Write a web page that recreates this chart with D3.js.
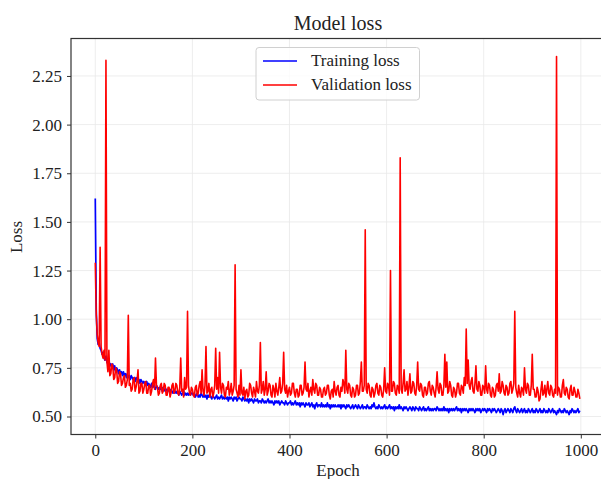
<!DOCTYPE html>
<html lang="en">
<meta charset="utf-8">
<head>
    <script src='https://d3js.org/d3.v7.min.js'></script>
    <style>
        body { margin: 0; background: #fff; }
        text { font-family: 'Liberation Serif', 'Times New Roman', serif; fill: #222; }
    </style>
</head>
<body>
</body>

<script>
var width = 601, height = 479;

// one value every 2 epochs (0, 2, ..., 998)
var epochs = d3.range(0, 1000, 2);

var trainLoss = [
    1.62,1.05,0.90,0.87,0.88,0.85,0.84,0.82,0.83,0.80,
    0.79,0.81,0.78,0.77,0.79,0.76,0.77,0.75,0.77,0.74,
    0.76,0.73,0.75,0.74,0.72,0.74,0.72,0.73,0.71,0.73,
    0.71,0.72,0.70,0.72,0.70,0.71,0.69,0.71,0.70,0.69,
    0.70,0.68,0.70,0.69,0.68,0.69,0.67,0.69,0.68,0.67,
    0.68,0.67,0.66,0.68,0.66,0.67,0.66,0.65,0.67,0.65,
    0.66,0.65,0.64,0.66,0.65,0.64,0.65,0.64,0.65,0.63,
    0.65,0.64,0.63,0.64,0.63,0.64,0.63,0.62,0.64,0.63,
    0.62,0.63,0.62,0.63,0.62,0.63,0.61,0.63,0.62,0.61,
    0.62,0.63,0.61,0.62,0.61,0.62,0.61,0.62,0.61,0.62,
    0.62,0.61,0.62,0.60,0.61,0.62,0.60,0.61,0.60,0.62,
    0.61,0.60,0.61,0.60,0.61,0.59,0.61,0.60,0.61,0.60,
    0.59,0.61,0.60,0.59,0.60,0.61,0.59,0.60,0.59,0.60,
    0.61,0.59,0.60,0.59,0.60,0.59,0.60,0.58,0.60,0.59,
    0.60,0.59,0.58,0.60,0.59,0.60,0.58,0.59,0.60,0.59,
    0.59,0.58,0.60,0.59,0.58,0.59,0.58,0.59,0.57,0.59,
    0.58,0.59,0.58,0.57,0.59,0.58,0.58,0.59,0.57,0.58,
    0.58,0.57,0.59,0.58,0.57,0.58,0.57,0.58,0.59,0.57,
    0.58,0.57,0.58,0.57,0.56,0.58,0.57,0.58,0.57,0.58,
    0.56,0.57,0.58,0.57,0.57,0.56,0.58,0.57,0.56,0.57,
    0.57,0.58,0.56,0.57,0.56,0.57,0.58,0.56,0.57,0.56,
    0.57,0.55,0.57,0.56,0.57,0.56,0.55,0.57,0.56,0.56,
    0.57,0.55,0.56,0.57,0.55,0.56,0.54,0.56,0.57,0.55,
    0.56,0.56,0.55,0.57,0.55,0.56,0.55,0.56,0.55,0.57,
    0.55,0.56,0.54,0.56,0.55,0.56,0.55,0.56,0.55,0.55,
    0.56,0.55,0.56,0.54,0.56,0.55,0.56,0.55,0.54,0.56,
    0.55,0.56,0.55,0.54,0.55,0.56,0.54,0.55,0.56,0.55,
    0.54,0.56,0.55,0.54,0.55,0.56,0.54,0.55,0.55,0.54,
    0.56,0.55,0.54,0.55,0.54,0.56,0.55,0.57,0.55,0.54,
    0.55,0.54,0.56,0.55,0.54,0.55,0.54,0.55,0.56,0.54,
    0.55,0.54,0.55,0.56,0.54,0.55,0.54,0.55,0.53,0.55,
    0.54,0.55,0.54,0.56,0.54,0.55,0.54,0.53,0.55,0.54,
    0.55,0.54,0.53,0.54,0.55,0.54,0.53,0.55,0.54,0.53,
    0.55,0.54,0.54,0.53,0.55,0.54,0.53,0.54,0.55,0.53,
    0.54,0.53,0.54,0.55,0.53,0.54,0.53,0.54,0.53,0.54,
    0.54,0.53,0.55,0.54,0.53,0.54,0.53,0.54,0.53,0.55,
    0.53,0.54,0.53,0.54,0.52,0.54,0.53,0.54,0.53,0.54,
    0.53,0.54,0.55,0.53,0.54,0.53,0.54,0.52,0.54,0.53,
    0.54,0.53,0.54,0.53,0.52,0.54,0.53,0.54,0.53,0.54,
    0.53,0.52,0.54,0.53,0.54,0.53,0.54,0.52,0.53,0.54,
    0.53,0.54,0.53,0.52,0.54,0.53,0.54,0.53,0.52,0.54,
    0.53,0.54,0.53,0.52,0.53,0.54,0.53,0.52,0.54,0.53,
    0.51,0.53,0.54,0.52,0.53,0.54,0.53,0.52,0.54,0.53,
    0.52,0.54,0.55,0.53,0.52,0.54,0.53,0.52,0.53,0.54,
    0.52,0.53,0.54,0.52,0.53,0.52,0.54,0.53,0.52,0.53,
    0.54,0.52,0.53,0.52,0.54,0.53,0.52,0.53,0.54,0.52,
    0.53,0.52,0.54,0.53,0.52,0.53,0.52,0.54,0.53,0.52,
    0.53,0.54,0.52,0.53,0.52,0.51,0.53,0.52,0.54,0.53,
    0.52,0.53,0.52,0.54,0.53,0.52,0.53,0.52,0.51,0.53,
    0.52,0.54,0.53,0.52,0.53,0.52,0.53,0.54,0.52,0.53
];

var valLoss = [
    1.29,1.02,0.92,0.88,0.86,1.37,0.86,0.82,0.80,0.84,
    0.79,2.33,0.78,0.73,0.84,0.71,0.72,0.77,0.76,0.69,
    0.70,0.75,0.74,0.67,0.68,0.73,0.72,0.66,0.67,0.70,
    0.71,0.65,0.66,0.69,1.02,0.66,0.67,0.63,0.64,0.69,
    0.70,0.63,0.65,0.68,0.74,0.62,0.63,0.67,0.67,0.62,
    0.64,0.67,0.68,0.62,0.62,0.66,0.66,0.61,0.63,0.67,
    0.69,0.64,0.80,0.66,0.65,0.61,0.62,0.66,0.67,0.62,
    0.63,0.67,0.66,0.61,0.61,0.65,0.65,0.60,0.62,0.66,
    0.67,0.62,0.63,0.67,0.66,0.62,0.61,0.65,0.80,0.63,
    0.64,0.60,0.70,0.64,0.65,1.04,0.66,0.62,0.61,0.65,
    0.64,0.61,0.60,0.65,0.66,0.61,0.62,0.66,0.68,0.62,
    0.74,0.63,0.61,0.66,0.86,0.62,0.63,0.67,0.60,0.64,
    0.65,0.60,0.62,0.66,0.85,0.64,0.70,0.62,0.83,0.65,
    0.62,0.67,0.66,0.61,0.60,0.65,0.64,0.68,0.61,0.63,
    0.67,0.61,0.63,0.66,1.28,0.64,0.62,0.60,0.66,0.61,
    0.74,0.62,0.61,0.65,0.59,0.63,0.64,0.60,0.61,0.67,
    0.66,0.62,0.60,0.65,0.63,0.60,0.68,0.63,0.62,0.66,
    0.88,0.62,0.64,0.68,0.61,0.64,0.73,0.61,0.63,0.67,
    0.66,0.61,0.60,0.66,0.64,0.60,0.67,0.63,0.61,0.65,
    0.70,0.62,0.63,0.67,0.83,0.64,0.62,0.66,0.60,0.63,
    0.65,0.61,0.62,0.67,0.67,0.62,0.60,0.64,0.64,0.60,
    0.61,0.66,0.66,0.61,0.62,0.65,0.78,0.64,0.63,0.67,
    0.60,0.63,0.65,0.61,0.69,0.64,0.62,0.67,0.66,0.61,
    0.61,0.65,0.64,0.60,0.60,0.64,0.65,0.61,0.62,0.66,
    0.66,0.61,0.59,0.63,0.64,0.60,0.68,0.63,0.61,0.65,
    0.66,0.61,0.60,0.65,0.63,0.69,0.67,0.62,0.84,0.64,
    0.62,0.67,0.66,0.61,0.60,0.65,0.64,0.60,0.61,0.66,
    0.66,0.61,0.62,0.68,0.78,0.63,0.63,0.66,1.46,0.64,
    0.62,0.67,0.66,0.61,0.60,0.65,0.64,0.60,0.62,0.66,
    0.67,0.62,0.61,0.66,0.65,0.61,0.60,0.64,0.75,0.63,
    0.62,0.67,0.66,0.61,1.25,0.63,0.63,0.68,0.67,0.62,
    0.61,0.66,0.65,0.62,1.83,0.64,0.62,0.67,0.74,0.63,
    0.64,0.68,0.61,0.65,0.72,0.62,0.63,0.68,0.67,0.62,
    0.61,0.66,0.78,0.64,0.63,0.67,0.66,0.61,0.60,0.65,
    0.65,0.61,0.62,0.67,0.68,0.63,0.61,0.66,0.65,0.62,
    0.60,0.65,0.73,0.64,0.62,0.67,0.66,0.61,0.61,0.66,
    0.82,0.65,0.78,0.62,0.63,0.68,0.66,0.61,0.60,0.65,
    0.64,0.60,0.62,0.67,0.67,0.62,0.61,0.66,0.65,0.62,
    0.70,0.66,0.95,0.67,0.79,0.66,0.64,0.68,0.70,0.63,
    0.62,0.67,0.76,0.64,0.63,0.68,0.66,0.61,0.61,0.66,
    0.65,0.62,0.76,0.64,0.62,0.67,0.66,0.61,0.60,0.65,
    0.64,0.60,0.61,0.66,0.67,0.63,0.72,0.62,0.63,0.68,
    0.66,0.62,0.61,0.66,0.65,0.61,0.62,0.67,0.68,0.62,
    0.64,0.67,1.04,0.65,0.62,0.60,0.66,0.62,0.60,0.65,
    0.64,0.61,0.75,0.64,0.62,0.67,0.66,0.61,0.61,0.66,
    0.82,0.64,0.64,0.60,0.60,0.65,0.63,0.58,0.59,0.64,
    0.68,0.61,0.62,0.66,0.60,0.64,0.68,0.62,0.61,0.66,
    0.65,0.61,0.60,0.64,0.62,2.35,0.61,0.65,0.64,0.60,
    0.60,0.66,0.69,0.62,0.61,0.65,0.64,0.60,0.59,0.64,
    0.66,0.61,0.61,0.65,0.63,0.60,0.60,0.64,0.62,0.59
];

var xTicks = [0, 200, 400, 600, 800, 1000];
var yTicks = [0.50, 0.75, 1.00, 1.25, 1.50, 1.75, 2.00, 2.25];

var pLeft = 71, pRight = 604.6, pTop = 38.5, pBottom = 434.5;

var svg = d3.select('body').append('svg').attr('width', width).attr('height', height);

var x = d3.scaleLinear().domain([-50, 1049]).range([pLeft, pRight]);
var y = d3.scaleLinear().domain([0.4075, 2.4425]).range([pBottom, pTop]);

// grid
svg.append('g').selectAll('line').data(xTicks).join('line')
    .attr('x1', d => x(d)).attr('x2', d => x(d))
    .attr('y1', pTop).attr('y2', pBottom)
    .attr('stroke', '#e8e8e8').attr('stroke-width', 0.8);
svg.append('g').selectAll('line').data(yTicks).join('line')
    .attr('x1', pLeft).attr('x2', pRight)
    .attr('y1', d => y(d)).attr('y2', d => y(d))
    .attr('stroke', '#e8e8e8').attr('stroke-width', 0.8);

svg.append('clipPath').attr('id', 'plot')
    .append('rect').attr('x', pLeft).attr('y', pTop)
    .attr('width', pRight - pLeft).attr('height', pBottom - pTop);

var line = d3.line()
    .x((d, i) => x(epochs[i]))
    .y(d => y(d));

svg.append('path').datum(trainLoss)
    .attr('clip-path', 'url(#plot)')
    .attr('fill', 'none').attr('stroke', '#0000ff').attr('stroke-width', 1.7)
    .attr('stroke-linejoin', 'round')
    .attr('d', line);
svg.append('path').datum(valLoss)
    .attr('clip-path', 'url(#plot)')
    .attr('fill', 'none').attr('stroke', '#ff0000').attr('stroke-width', 1.6)
    .attr('stroke-linejoin', 'round')
    .attr('d', line);

// axes
var xAxis = d3.axisBottom(x).tickValues(xTicks).tickSize(4).tickPadding(5).tickFormat(d3.format('d'));
var yAxis = d3.axisLeft(y).tickValues(yTicks).tickSize(4).tickPadding(5).tickFormat(d3.format('.2f'));

var gx = svg.append('g').attr('transform', 'translate(0,' + pBottom + ')').call(xAxis);
var gy = svg.append('g').attr('transform', 'translate(' + pLeft + ',0)').call(yAxis);
[gx, gy].forEach(function(g) {
    g.select('.domain').remove();
    g.selectAll('line').attr('stroke', '#333');
    g.selectAll('text').style('font-size', '17px').attr('fill', '#222')
        .style('font-family', "'Liberation Serif', serif");
});

// frame
svg.append('rect').attr('x', pLeft).attr('y', pTop)
    .attr('width', pRight - pLeft).attr('height', pBottom - pTop)
    .attr('fill', 'none').attr('stroke', '#333').attr('stroke-width', 1.2);

// titles
svg.append('text').attr('x', 338).attr('y', 30).attr('text-anchor', 'middle')
    .style('font-size', '20px').text('Model loss');
svg.append('text').attr('x', 338).attr('y', 476).attr('text-anchor', 'middle')
    .style('font-size', '17px').text('Epoch');
svg.append('text').attr('transform', 'translate(22,237) rotate(-90)').attr('text-anchor', 'middle')
    .style('font-size', '17px').text('Loss');

// legend
var legend = svg.append('g');
legend.append('rect').attr('x', 256).attr('y', 47.5).attr('width', 163.5).attr('height', 52.5)
    .attr('rx', 3).attr('fill', '#fff').attr('fill-opacity', 0.8)
    .attr('stroke', '#d0d0d0');
var legendItems = [['Training loss', '#0000ff'], ['Validation loss', '#ff0000']];
legendItems.forEach(function(item, i) {
    var ly = 61 + i * 24;
    legend.append('line').attr('x1', 263).attr('x2', 297).attr('y1', ly).attr('y2', ly)
        .attr('stroke', item[1]).attr('stroke-width', 1.5);
    legend.append('text').attr('x', 311).attr('y', ly + 5).style('font-size', '17px').text(item[0]);
});
</script>
